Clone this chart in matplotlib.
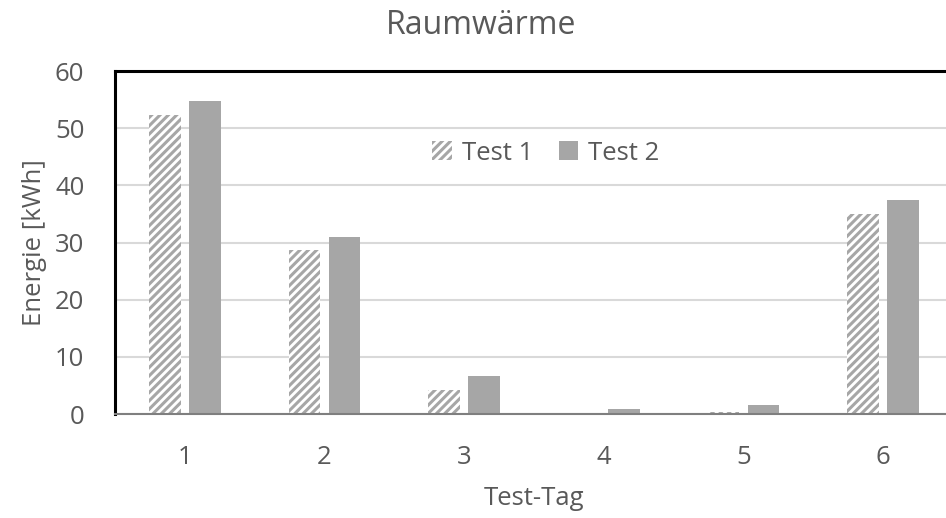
import numpy as np
import matplotlib; matplotlib.use("Agg")
import matplotlib.pyplot as plt
from matplotlib.patches import Patch

days = ["1", "2", "3", "4", "5", "6"]
test1 = [52.3, 28.7, 4.2, 0.0, 0.3, 35.0]
test2 = [54.7, 31.0, 6.6, 0.8, 1.5, 37.4]

plt.rcParams.update({"font.family": ["Open Sans", "DejaVu Sans"], "hatch.linewidth": 2.2,
                     "hatch.color": "#a6a6a6"})
TXT = "#595959"; BAR = "#a6a6a6"; FS = 18.5

fig = plt.figure(figsize=(9.46, 5.18), dpi=100)
ax = fig.add_axes([115/946, 104/518, 838/946, 343/518])

x = np.arange(len(days))
w = 0.225; off = 0.143
ax.bar(x - off, test1, w, color="white", edgecolor=BAR, hatch="////", lw=0, zorder=2)
ax.bar(x + off, test2, w, color=BAR, lw=0, zorder=2)

ax.set_xlim(-0.5, 5.5); ax.set_ylim(0, 60)
ax.set_yticks(range(0, 61, 10)); ax.set_xticks(x, days)
ax.yaxis.grid(True, color="#d9d9d9", lw=1.5, zorder=0)
ax.tick_params(length=0, labelsize=FS, labelcolor=TXT)
ax.tick_params(axis="y", pad=22)
ax.tick_params(axis="x", pad=22)
for s in ("top", "left"):
    ax.spines[s].set_color("black"); ax.spines[s].set_linewidth(2.2)
ax.spines["right"].set_visible(False)
ax.spines["bottom"].set_color("#7f7f7f"); ax.spines["bottom"].set_linewidth(1.5)

ax.set_xlabel("Test-Tag", fontsize=FS, color=TXT, labelpad=12)
ax.set_ylabel("Energie [kWh]", fontsize=FS, color=TXT, labelpad=6)
fig.text(481/946, 1 - 26/518, "Raumwärme", fontsize=23, color=TXT, ha="center", va="center")

handles = [Patch(facecolor="white", edgecolor=BAR, hatch="////", lw=0, label="Test 1"),
           Patch(facecolor=BAR, lw=0, label="Test 2")]
ax.legend(handles=handles, ncol=2, frameon=False, fontsize=FS, labelcolor=TXT,
          loc="center", bbox_to_anchor=((546 - 115) / 838, (414 - 153) / 343),
          handlelength=0.75, handleheight=0.75, handletextpad=0.4, columnspacing=1.0,
          borderaxespad=0, borderpad=0)

fig.savefig("out.png", dpi=100)
